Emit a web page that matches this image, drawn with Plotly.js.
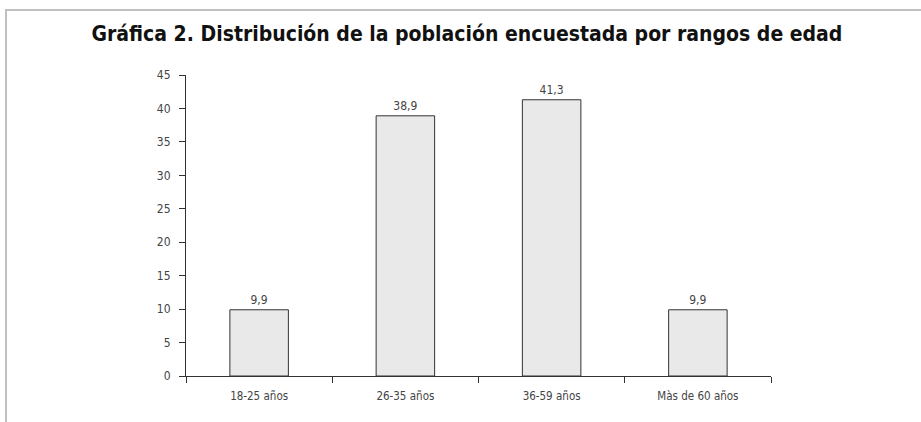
<!DOCTYPE html>
<html><head><meta charset="utf-8">
<script src="https://cdn.plot.ly/plotly-3.0.1.min.js"></script>
<style>html,body{margin:0;padding:0;background:#fff}#chart{width:921px;height:422px}
#chart svg text{font-stretch:condensed !important}</style>
</head><body><div id="chart"></div>
<script>
const categories = ["18-25 años", "26-35 años", "36-59 años", "Màs de 60 años"];
const values = [9.9, 38.9, 41.3, 9.9];
const yTicks = [0, 5, 10, 15, 20, 25, 30, 35, 40, 45];
const titleText = "Gráfica 2. Distribución de la población encuestada por rangos de edad";

const FONT = '"DejaVu Sans Condensed", "Liberation Sans Narrow", "Arial Narrow", sans-serif';

const trace = {
  type: "bar",
  x: categories,
  y: values,
  width: 0.4,
  marker: {color: "#e9e9e9", line: {color: "#333333", width: 1}},
  texttemplate: "%{y:.1f}",
  textposition: "outside",
  cliponaxis: false,
  textfont: {family: FONT, size: 12, color: "#444444"},
  hoverinfo: "skip"
};

const W = 585, H = 301, L = 186, T = 75;
function px(x){return (x - L) / W;}
function py(y){return (T + H - y) / H;}

const layout = {
  width: 921, height: 422,
  margin: {l: 186, r: 150, t: 75, b: 46},
  paper_bgcolor: "#ffffff", plot_bgcolor: "#ffffff",
  separators: ",.",
  showlegend: false,
  title: {
    text: "<b>" + titleText + "</b>",
    font: {family: FONT, size: 21, color: "#111111"},
    xref: "container", yref: "container",
    x: 0.507, xanchor: "center", y: 1 - 34/422, yanchor: "middle"
  },
  xaxis: {
    type: "category",
    range: [-0.5, 3.5],
    showline: true, linecolor: "#333333", linewidth: 1,
    ticks: "outside", tickson: "boundaries", ticklen: 6, tickcolor: "#333333",
    showgrid: false, zeroline: false,
    ticklabelstandoff: 9,
    tickfont: {family: FONT, size: 11.5, color: "#444444"}
  },
  yaxis: {
    range: [0, 45],
    tickvals: yTicks,
    showline: true, linecolor: "#333333", linewidth: 1,
    ticks: "outside", ticklen: 6, tickcolor: "#333333",
    showgrid: false, zeroline: false,
    ticklabelstandoff: 6,
    tickfont: {family: FONT, size: 12, color: "#444444"}
  },
  shapes: [{
    type: "path", xref: "paper", yref: "paper",
    path: "M " + px(6) + " " + py(430) + " L " + px(6) + " " + py(10) + " L " + px(930) + " " + py(10),
    line: {color: "#c0c0c0", width: 2}
  }]
};

Plotly.newPlot("chart", [trace], layout, {displayModeBar: false, staticPlot: true});
</script></body></html>
